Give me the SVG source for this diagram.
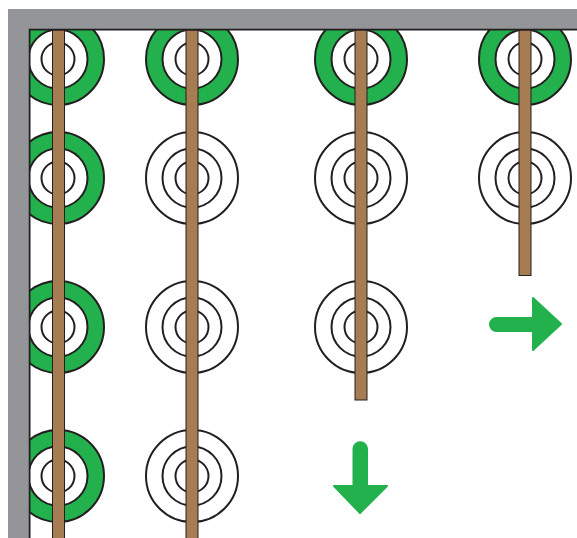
<svg xmlns="http://www.w3.org/2000/svg" width="577" height="538" viewBox="0 0 577 538">
  <defs>
    <style>
      .ring { fill: none; stroke: #231f20; stroke-width: 2; }
      .gring { fill: #22b14c; stroke: #231f20; stroke-width: 2; }
      .wfill { fill: #ffffff; stroke: #231f20; stroke-width: 2; }
      .bar { fill: #a67c52; stroke: #231f20; stroke-width: 1; }
      .arrow { fill: #22b14c; stroke: #22b14c; stroke-width: 2; stroke-linejoin: round; }
    </style>
    <clipPath id="inner">
      <rect x="29" y="29" width="548" height="509"/>
    </clipPath>
    <g id="plain">
      <circle class="ring" r="46"/>
      <circle class="ring" r="29.5"/>
      <circle class="ring" r="16.5"/>
    </g>
    <g id="green">
      <circle class="gring" r="46"/>
      <circle class="wfill" r="29.5"/>
      <circle class="ring" r="16.5"/>
    </g>
  </defs>
  <rect width="577" height="538" fill="#ffffff"/>
  <g id="nodes" clip-path="url(#inner)">
    <g id="c1r1"><use href="#green" x="58" y="59"/></g>
    <g id="c1r2"><use href="#green" x="58" y="178"/></g>
    <g id="c1r3"><use href="#green" x="58" y="327"/></g>
    <g id="c1r4"><use href="#green" x="58" y="476"/></g>
    <g id="c2r1"><use href="#green" x="192" y="59"/></g>
    <g id="c2r2"><use href="#plain" x="192" y="178"/></g>
    <g id="c2r3"><use href="#plain" x="192" y="327"/></g>
    <g id="c2r4"><use href="#plain" x="192" y="476"/></g>
    <g id="c3r1"><use href="#green" x="361" y="59"/></g>
    <g id="c3r2"><use href="#plain" x="361" y="178"/></g>
    <g id="c3r3"><use href="#plain" x="361" y="327"/></g>
    <g id="c4r1"><use href="#green" x="525" y="59"/></g>
    <g id="c4r2"><use href="#plain" x="525" y="178"/></g>
  </g>
  <g id="connectors">
    <rect class="bar" x="52.5" y="30" width="12" height="510"/>
    <rect class="bar" x="186" y="30" width="12" height="510"/>
    <rect class="bar" x="355" y="30" width="12" height="370"/>
    <rect class="bar" x="519" y="30" width="12" height="245.5"/>
  </g>
  <g id="frame">
    <rect x="8" y="9" width="569" height="19.5" fill="#939598"/>
    <rect x="8" y="9" width="20.5" height="529" fill="#939598"/>
    <path d="M29.5 538 V29.5 H577" fill="none" stroke="#231f20" stroke-width="2"/>
  </g>
  <g id="arrows">
    <path class="arrow" d="M533 318 V298 L561 324 L533 350 V331 H496.5 A6.5 6.5 0 0 1 496.5 318 Z"/>
    <path class="arrow" d="M353.5 486 H334 L360 513 L387 486 H367 V449 A6.75 6.75 0 0 0 353.5 449 Z"/>
  </g>
</svg>
